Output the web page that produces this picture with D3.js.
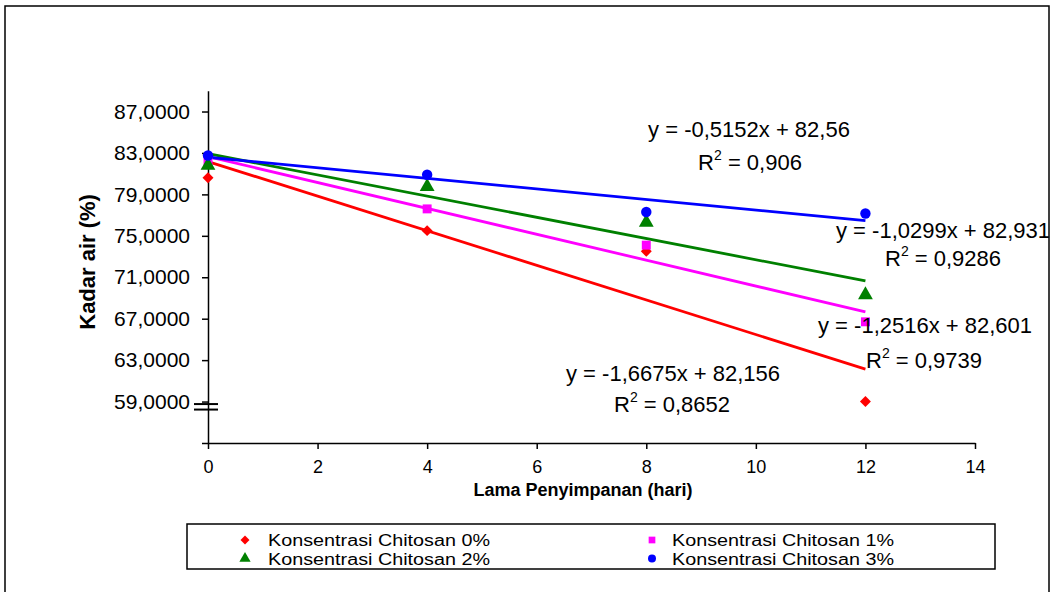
<!DOCTYPE html>
<html>
<head>
<meta charset="utf-8">
<script src="https://cdn.jsdelivr.net/npm/d3@7"></script>
<style>
  body { margin: 0; background: #fff; }
  svg { display: block; font-family: "Liberation Sans", Arial, sans-serif; }
</style>
</head>
<body>
<div id="chart"></div>
<script>
// data
const days = [0, 4, 8, 12];
const seriesNames = ["Konsentrasi Chitosan 0%", "Konsentrasi Chitosan 1%", "Konsentrasi Chitosan 2%", "Konsentrasi Chitosan 3%"];
const chitosan0 = [80.6, 75.5, 73.5, 59.0];
const chitosan1 = [82.2, 77.6, 74.1, 66.7];
const chitosan2 = [81.8, 79.75, 76.3, 69.3];
const chitosan3 = [82.75, 80.9, 77.3, 77.15];
const yTicks = [59, 63, 67, 71, 75, 79, 83, 87];
const xTicks = [0, 2, 4, 6, 8, 10, 12, 14];
const eqLabels = ["y = -1,6675x + 82,156", "y = -1,2516x + 82,601", "y = -1,0299x + 82,931", "y = -0,5152x + 82,56"];
const r2Labels = ["0,8652", "0,9739", "0,9286", "0,906"];

document.addEventListener("DOMContentLoaded", function() {
    const W = 1054, H = 592;
    const colors = ["#FF0000", "#FF00FF", "#008000", "#0000FF"];
    const allSeries = [chitosan0, chitosan1, chitosan2, chitosan3];

    // diamond = square turned 45 degrees
    const markerShape = (i, size) => {
        if (i === 0) return { d: d3.symbol().type(d3.symbolSquare).size(size)(), rot: 45 };
        const t = [null, d3.symbolSquare, d3.symbolTriangle, d3.symbolCircle][i];
        return { d: d3.symbol().type(t).size(size)(), rot: 0 };
    };

    // label placement (pixels): equation then R2 line
    const labelPos = [
        { ex: 566, ey: 381, rx: 614, ry: 412, anchor: "start" },
        { ex: 818, ey: 333, rx: 866, ry: 368, anchor: "start" },
        { ex: 836, ey: 238, rx: 885, ry: 266, anchor: "start" },
        { ex: 749, ey: 137, rx: 750, ry: 170, anchor: "middle" }
    ];

    const svg = d3.select("#chart").append("svg")
        .attr("width", W)
        .attr("height", H);

    svg.append("rect").attr("width", W).attr("height", H).attr("fill", "#fff");

    // outer frame
    svg.append("rect")
        .attr("x", 5).attr("y", 6)
        .attr("width", 1044).attr("height", 620)
        .attr("fill", "none")
        .attr("stroke", "#000")
        .attr("stroke-width", 1.5);

    const x = d3.scaleLinear().domain([0, 14]).range([208, 975]);
    const y = d3.scaleLinear().domain([55, 89]).range([443, 90.8]);

    // y axis
    const yAxis = svg.append("g")
        .attr("transform", `translate(${x(0)},0)`)
        .call(d3.axisLeft(y).tickValues([55].concat(yTicks)).tickSize(6).tickSizeOuter(0)
            .tickFormat(d => d === 55 ? "" : d3.format(".4f")(d).replace(".", ",")));
    yAxis.select(".domain").attr("stroke", "#000").attr("stroke-width", 1.5);
    yAxis.selectAll(".tick line").attr("stroke", "#000").attr("stroke-width", 1.5);
    yAxis.selectAll(".tick text")
        .attr("x", -18)
        .attr("fill", "#000")
        .style("font-size", "21px")
        .style("font-family", "Liberation Sans, Arial, sans-serif");

    // x axis
    const xAxis = svg.append("g")
        .attr("transform", `translate(0,${y(55)})`)
        .call(d3.axisBottom(x).tickValues(xTicks).tickSize(6).tickSizeOuter(0).tickFormat(d3.format("d")));
    xAxis.select(".domain").attr("stroke", "#000").attr("stroke-width", 1.5);
    xAxis.selectAll(".tick line").attr("stroke", "#000").attr("stroke-width", 1.5);
    xAxis.selectAll(".tick text")
        .attr("y", 17)
        .attr("fill", "#000")
        .style("font-size", "18px")
        .style("font-family", "Liberation Sans, Arial, sans-serif");

    // axis break mark
    [0, 5.5].forEach(off => {
        svg.append("line")
            .attr("x1", 194).attr("x2", 218)
            .attr("y1", y(59) + 2.5 + off).attr("y2", y(59) + 2.5 + off)
            .attr("stroke", "#000").attr("stroke-width", 2);
    });

    // axis titles
    svg.append("text")
        .attr("transform", `translate(95,${(y(55) + y(89)) / 2 - 5}) rotate(-90)`)
        .attr("text-anchor", "middle")
        .style("font-size", "22px")
        .style("font-weight", "bold")
        .text("Kadar air (%)");

    svg.append("text")
        .attr("x", 583).attr("y", 496)
        .attr("text-anchor", "middle")
        .style("font-size", "18px")
        .style("font-weight", "bold")
        .text("Lama Penyimpanan (hari)");

    // linear trend lines (least squares)
    const fit = vals => {
        const mx = d3.mean(days), my = d3.mean(vals);
        const sxy = d3.sum(days, (d, i) => (d - mx) * (vals[i] - my));
        const sxx = d3.sum(days, d => (d - mx) * (d - mx));
        const b = sxy / sxx;
        return { slope: b, intercept: my - b * mx };
    };

    allSeries.forEach((vals, i) => {
        const f = fit(vals);
        const ends = [d3.min(days), d3.max(days)];
        svg.append("path")
            .datum(ends)
            .attr("fill", "none")
            .attr("stroke", colors[i])
            .attr("stroke-width", 2.8)
            .attr("d", d3.line().x(d => x(d)).y(d => y(f.intercept + f.slope * d)));
    });

    // markers
    const markerSize = [60, 80, 95, 85];
    allSeries.forEach((vals, i) => {
        const m = markerShape(i, markerSize[i]);
        svg.append("g")
            .selectAll("path")
            .data(vals)
            .enter()
            .append("path")
            .attr("transform", (d, j) => `translate(${x(days[j])},${y(d)}) rotate(${m.rot})`)
            .attr("d", m.d)
            .attr("fill", colors[i]);
    });

    // equation labels
    labelPos.forEach((p, i) => {
        svg.append("text")
            .attr("x", p.ex).attr("y", p.ey)
            .attr("text-anchor", p.anchor)
            .style("font-size", "22px")
            .text(eqLabels[i]);
        const r = svg.append("text")
            .attr("x", p.rx).attr("y", p.ry)
            .attr("text-anchor", p.anchor)
            .style("font-size", "22px");
        r.append("tspan").text("R");
        r.append("tspan").attr("dy", -10).style("font-size", "14px").text("2");
        r.append("tspan").attr("dy", 10).text(" = " + r2Labels[i]);
    });

    // legend
    const legend = svg.append("g");
    legend.append("rect")
        .attr("x", 187).attr("y", 524)
        .attr("width", 808).attr("height", 45)
        .attr("fill", "#fff")
        .attr("stroke", "#000")
        .attr("stroke-width", 1.5);

    const legendPos = [
        { mx: 245, tx: 268, cy: 540 },
        { mx: 652, tx: 672, cy: 540 },
        { mx: 245, tx: 268, cy: 558.5 },
        { mx: 652, tx: 672, cy: 558.5 }
    ];
    const legendSize = [40, 45, 55, 50];
    seriesNames.forEach((name, i) => {
        const p = legendPos[i];
        const m = markerShape(i, legendSize[i]);
        legend.append("path")
            .attr("transform", `translate(${p.mx},${p.cy}) rotate(${m.rot})`)
            .attr("d", m.d)
            .attr("fill", colors[i]);
        legend.append("text")
            .attr("x", p.tx).attr("y", p.cy + 6)
            .attr("textLength", 222)
            .attr("lengthAdjust", "spacingAndGlyphs")
            .style("font-size", "16px")
            .text(name);
    });
});
</script>
</body>
</html>
